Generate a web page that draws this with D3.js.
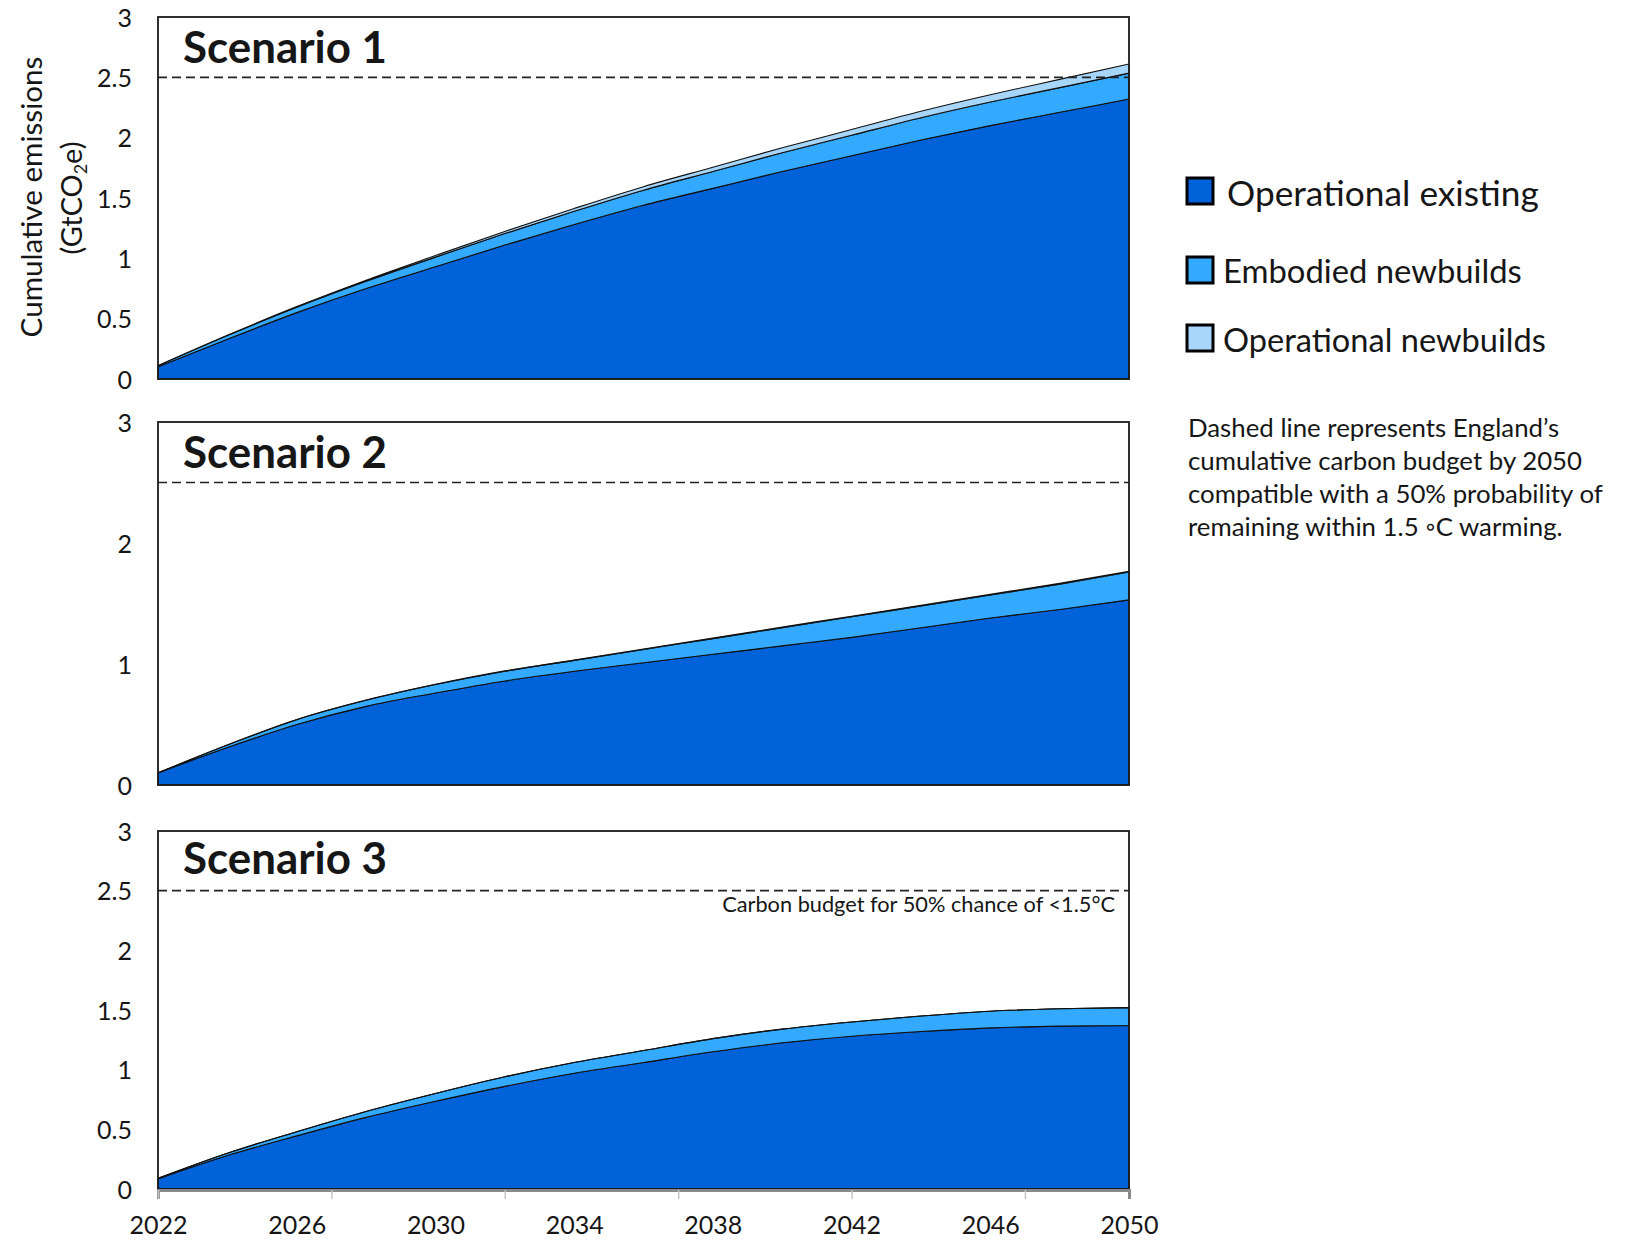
<!DOCTYPE html>
<html><head><meta charset="utf-8">
<script src="https://cdn.jsdelivr.net/npm/d3@7"></script>
<style>body{margin:0;background:#fff} svg{display:block} text{font-family:Lato,"Open Sans",sans-serif;fill:#161616}</style>
</head><body><svg id="c" width="1634" height="1241"></svg>
<script>
// ---------- data ----------
const years = [2022,2024,2026,2028,2030,2032,2034,2036,2038,2040,2042,2044,2046,2048,2050];
const scenarioNames = ["Scenario 1","Scenario 2","Scenario 3"];
const seriesNames = ["Operational existing","Embodied newbuilds","Operational newbuilds"];

const s1Existing = [0.10,0.33,0.55,0.75,0.93,1.11,1.28,1.44,1.58,1.72,1.85,1.98,2.10,2.21,2.32];
const s1Embodied = [0.01,0.03,0.045,0.06,0.08,0.095,0.11,0.125,0.14,0.155,0.17,0.185,0.195,0.205,0.215];
const s1OpNew    = [0.0,0.002,0.005,0.009,0.013,0.018,0.023,0.029,0.035,0.041,0.047,0.054,0.061,0.068,0.075];

const s2Existing = [0.10,0.31,0.50,0.65,0.76,0.86,0.94,1.01,1.08,1.15,1.22,1.30,1.38,1.45,1.53];
const s2Embodied = [0.0,0.02,0.04,0.05,0.07,0.08,0.09,0.11,0.13,0.15,0.17,0.18,0.19,0.21,0.23];
const s2OpNew    = [0.0,0.001,0.001,0.002,0.002,0.003,0.003,0.004,0.004,0.005,0.005,0.006,0.006,0.007,0.007];

const s3Existing = [0.085,0.28,0.445,0.60,0.735,0.86,0.97,1.06,1.15,1.225,1.28,1.32,1.35,1.365,1.37];
const s3Embodied = [0.005,0.02,0.035,0.05,0.065,0.08,0.09,0.10,0.11,0.115,0.12,0.13,0.14,0.145,0.15];
const s3OpNew    = [0,0,0,0,0,0,0,0,0,0,0,0,0,0,0];

const budget = 2.5;
const yTicksA = [0,0.5,1,1.5,2,2.5,3];
const yTicksB = [0,1,2,3];
const xLabelYears = [2022,2026,2030,2034,2038,2042,2046,2050];
const xTickYears = [2022,2027,2032,2037,2042,2047];
const budgetLabel = "Carbon budget for 50% chance of <1.5°C";
const noteLines = ["Dashed line represents England\u2019s","cumulative carbon budget by 2050","compatible with a 50% probability of","remaining within 1.5 \u25E6C warming."];

// ---------- layout ----------
const colors = ["#0062D8","#33AAFF","#A8D6FB"];
const svg = d3.select("#c");
const X0 = 158, X1 = 1129;
const x = d3.scaleLinear().domain([2022,2050]).range([X0,X1]);
const panels = [
  {top:17, bottom:379, ticks:yTicksA, ex:s1Existing, em:s1Embodied, op:s1OpNew, titleBase:63},
  {top:422, bottom:785, ticks:yTicksB, ex:s2Existing, em:s2Embodied, op:s2OpNew, titleBase:468},
  {top:831, bottom:1189, ticks:yTicksA, ex:s3Existing, em:s3Embodied, op:s3OpNew, titleBase:874}
];

function fit(sel, w){
  const fs = parseFloat(sel.attr("font-size"));
  const len = sel.node().getComputedTextLength();
  sel.attr("font-size", fs*w/len);
  return fs*w/len;
}

const stack = d3.stack().keys(["ex","em","op"]);

panels.forEach((p,i)=>{
  const y = d3.scaleLinear().domain([0,3]).range([p.bottom,p.top]);
  const g = svg.append("g");
  const rows = years.map((yr,k)=>({year:yr, ex:p.ex[k], em:p.em[k], op:p.op[k]}));
  const st = stack(rows);
  const area = d3.area().x(d=>x(d.data.year)).y0(d=>y(d[0])).y1(d=>y(d[1])).curve(d3.curveMonotoneX);
  g.selectAll("path.a").data(st).join("path").attr("class","a")
    .attr("d",area).attr("fill",(d,j)=>colors[j])
    .attr("stroke","#111").attr("stroke-width",1.1).attr("stroke-linejoin","round");

  // budget dashed line
  g.append("line").attr("x1",X0).attr("x2",X1).attr("y1",y(budget)).attr("y2",y(budget))
    .attr("stroke","#222").attr("stroke-width",1.6).attr("stroke-dasharray","9,5");

  // frame
  g.append("rect").attr("x",X0).attr("y",p.top).attr("width",X1-X0).attr("height",p.bottom-p.top)
    .attr("fill","none").attr("stroke","#1a1a1a").attr("stroke-width",1.8);

  // y axis labels
  const ya = g.append("g").attr("transform",`translate(${X0},0)`)
    .call(d3.axisLeft(y).tickValues(p.ticks).tickSize(0).tickPadding(26).tickFormat(d3.format("")));
  ya.select(".domain").remove();
  ya.selectAll("text").attr("font-size",25).attr("font-family","Lato").attr("fill","#1a1a1a").attr("dy","0.36em");

  // title
  const t = g.append("text").attr("x",183).attr("y",p.titleBase).attr("font-weight","bold")
    .attr("font-size",40).attr("fill","#000").text(scenarioNames[i]);
  fit(t,204);

  if(i===2){
    const tb = g.append("text").attr("x",1115).attr("y",912).attr("text-anchor","end")
      .attr("font-size",20).text(budgetLabel);
    fit(tb,393);
    // x axis
    const xa = g.append("g").attr("transform",`translate(0,${p.bottom+1})`)
      .call(d3.axisBottom(x).tickValues(xTickYears).tickSize(9).tickFormat(""));
    xa.select(".domain").attr("stroke","#8a8a8a").attr("stroke-width",3);
    xa.selectAll(".tick line").attr("stroke","#c4c4c4").attr("stroke-width",1.5);
    const xl = g.append("g").attr("transform",`translate(0,${p.bottom})`)
      .call(d3.axisBottom(x).tickValues(xLabelYears).tickSize(0).tickPadding(0).tickFormat(d3.format("d")));
    xl.select(".domain").remove();
    xl.selectAll("text").attr("font-size",25).attr("font-family","Lato").attr("fill","#1a1a1a")
      .attr("dy",null).attr("y",45);
  }
});

// y axis title
const yt1 = svg.append("text").attr("transform","translate(42,197) rotate(-90)").attr("text-anchor","middle")
  .attr("font-size",27).text("Cumulative emissions");
fit(yt1,281);
const yt2 = svg.append("text").attr("transform","translate(82,198) rotate(-90)").attr("text-anchor","middle")
  .attr("font-size",27);
yt2.append("tspan").text("(GtCO");
yt2.append("tspan").attr("font-size","0.62em").attr("dy","0.3em").text("2");
yt2.append("tspan").attr("dy","-0.19em").text("e)");
fit(yt2,113);

// legend
const leg = [
  {sy:178, tx:1227, base:206, w:312},
  {sy:257, tx:1223, base:283, w:299},
  {sy:325, tx:1223, base:352, w:323}
];
leg.forEach((l,j)=>{
  svg.append("rect").attr("x",1187).attr("y",l.sy).attr("width",26).attr("height",26)
    .attr("fill",colors[j]).attr("stroke","#000").attr("stroke-width",3);
  const t = svg.append("text").attr("x",l.tx).attr("y",l.base).attr("font-size",32).text(seriesNames[j]);
  fit(t,l.w);
});

// note
const n3 = svg.append("text").attr("x",1188).attr("y",503).attr("font-size",22).text(noteLines[2]);
const nfs = fit(n3,415);
[437,470,503,536].forEach((b,k)=>{ if(k!==2) svg.append("text").attr("x",1188).attr("y",b).attr("font-size",nfs).text(noteLines[k]); });
</script></body></html>
